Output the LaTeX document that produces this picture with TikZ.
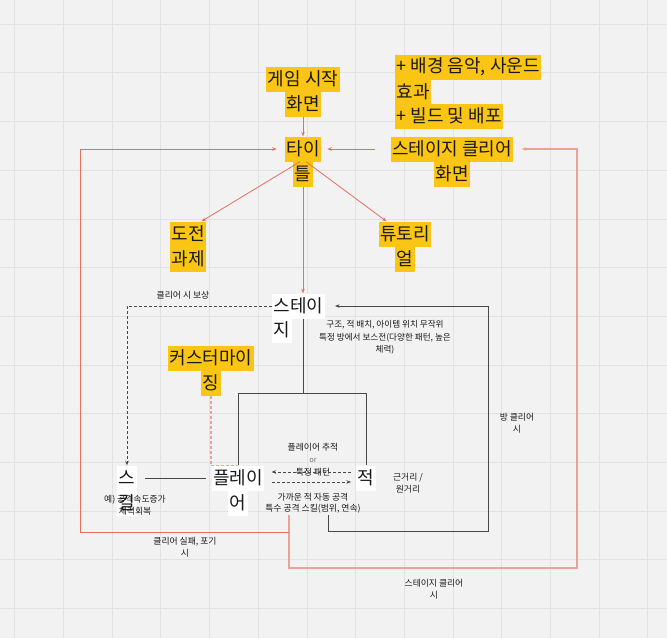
\documentclass[tikz,border=0pt]{standalone}
\usepackage{fontspec}
\setmainfont{Noto Sans CJK KR}
\usetikzlibrary{arrows.meta}
\definecolor{bgc}{RGB}{242,242,242}
\definecolor{gridc}{RGB}{226,226,226}
\definecolor{hly}{RGB}{250,197,20}
\definecolor{redl}{RGB}{230,110,95}
\definecolor{pinkl}{RGB}{236,162,148}
\definecolor{darkl}{RGB}{72,72,72}
\definecolor{txt}{RGB}{25,25,25}
\definecolor{orc}{RGB}{120,120,120}
\begin{document}
\begin{tikzpicture}[x=1pt,y=-1pt,
  big/.style={inner xsep=1.5pt, inner ysep=0pt, minimum height=25pt, font=\fontsize{18}{25}\selectfont, text=txt},
  hl/.style={big, fill=hly},
  wh/.style={big, fill=white},
  lbl/.style={inner sep=0pt, font=\fontsize{8.8}{12}\selectfont, text=txt, align=center},
  arr/.style={-{Stealth[length=4.5pt,width=3.5pt]}},
  redline/.style={draw=redl, line width=0.8pt},
  pinkline/.style={draw=pinkl, line width=1.1pt},
  darkline/.style={draw=darkl, line width=1pt},
  dashline/.style={draw=darkl, line width=0.8pt, dash pattern=on 3pt off 2pt},
  pinkdash/.style={draw=pinkl, line width=1.2pt, dash pattern=on 3pt off 2pt}
]
\useasboundingbox (0,0) rectangle (667,638);
\fill[bgc] (0,0) rectangle (667,638);
\foreach \i in {0,...,13} {
  \draw[gridc, line width=0.6pt] ({14.6+48.7*\i},0) -- ({14.6+48.7*\i},638);
}
\foreach \j in {0,...,12} {
  \draw[gridc, line width=0.6pt] (0,{24+48.7*\j}) -- (667,{24+48.7*\j});
}

% highlighted nodes
\node[hl] (start1) at (303,79) {게임 시작};
\node[hl] (start2) at (303,104) {화면};
\node[hl, anchor=west] (bgm1) at (395,67) {+ 배경 음악, 사운드};
\node[hl, anchor=west] (bgm2) at (395,92) {효과};
\node[hl, anchor=west] (bgm3) at (395,116) {+ 빌드 및 배포};
\node[hl] (title1) at (303,149) {타이};
\node[hl] (title2) at (303,174) {틀};
\node[hl] (clear1) at (452,149) {스테이지 클리어};
\node[hl] (clear2) at (452,174) {화면};
\node[hl, anchor=west] (dojeon1) at (170,234) {도전};
\node[hl, anchor=west] (dojeon2) at (170,259) {과제};
\node[hl] (tuto1) at (405,234) {튜토리};
\node[hl] (tuto2) at (405,259) {얼};
\node[hl] (custom1) at (211,358) {커스터마이};
\node[hl] (jing) at (211,383) {징};

% white nodes
\node[wh, anchor=west] (stage1) at (272,306) {스테이};
\node[wh, anchor=west] (stage2) at (272,330) {지};
\node[wh] (seu) at (127,478) {스};
\node[wh] (kil) at (127,503) {킬};
\node[wh] (player1) at (238,478) {플레이};
\node[wh] (player2) at (238,503) {어};
\node[wh] (jeok) at (366,478) {적};

% labels
\node[lbl] (rewardlbl) at (183,295) {클리어 시 보상};
\node[lbl, font=\fontsize{8.6}{12.5}\selectfont] (stagelbl) at (385,337.5) {구조, 적 배치, 아이템 위치 무작위\\특정 방에서 보스전(다양한 패턴, 높은\\체력)};
\node[lbl] (chase) at (313,447) {플레이어 추적};
\node[lbl, text=orc, font=\fontsize{7.5}{10}\selectfont] (orlbl) at (313,460) {or};
\node[lbl] (pattern) at (313,472) {특정 패턴};
\node[lbl] (atk1) at (313,497) {가까운 적 자동 공격};
\node[lbl] (atk2) at (313,508.5) {특수 공격 스킬(범위, 연속)};
\node[lbl] (rangelbl) at (408,483) {근거리 /\\원거리};
\node[lbl] (roomlbl) at (517,423) {방 클리어\\시};
\node[lbl] (faillbl) at (185,547.5) {클리어 실패, 포기\\시};
\node[lbl] (stclearlbl) at (434,589.5) {스테이지 클리어\\시};
\node[lbl] (skilllbl) at (135,505) {예) 공격속도증가\\체력회복};

% corner coordinates
\coordinate (rb) at (488,531);
\coordinate (rr) at (577,568);
\coordinate (ll) at (80,532);

% red connectors
\draw[redline,arr] (start2.south) -- (title1.north);
\draw[redline,arr] ([xshift=-15pt]clear1.west) -- ([xshift=6pt]title1.east);
\draw[redline,arr] ([xshift=-3pt]title1.south) -- ([xshift=-5pt]dojeon1.north east);
\draw[redline,arr] ([xshift=3pt]title1.south) -- ([xshift=8pt]tuto1.north west);
\draw[redline,arr] (title2.south) -- (title2.south |- stage1.north);
\draw[pinkline,arr] ([xshift=-24pt,yshift=-2pt]atk2.south) |- (rr) |- ([xshift=8pt]clear1.east);
\draw[redline,arr] ([xshift=-24pt]atk2.south |- ll) -- (ll) |- ([xshift=-8pt]title1.west);

% dark tree
\draw[darkline] (title2.south |- stage1.south) -- ++(0,75) coordinate (tj) -| (player1.north);
\draw[darkline] (tj) -| (jeok.north);
\draw[darkline] ([xshift=8pt]seu.east) -- ([xshift=-5pt]player1.west);
\draw[darkline,arr] ([xshift=15pt,yshift=-2pt]atk2.south) |- (rb) |- ([xshift=10pt]stage1.east);

% dashed
\draw[dashline,arr] ([xshift=-5pt,yshift=6pt]jeok.west) -- ([xshift=7pt,yshift=6pt]player1.east);
\draw[dashline,arr] ([xshift=7pt,yshift=-4pt]player1.east) -- ([xshift=-5pt,yshift=-4pt]jeok.west);
\draw[dashline,arr] (stage1.west) -| (seu.north);
\draw[pinkdash] (jing.south) |- (player1.north);
\end{tikzpicture}
\end{document}
